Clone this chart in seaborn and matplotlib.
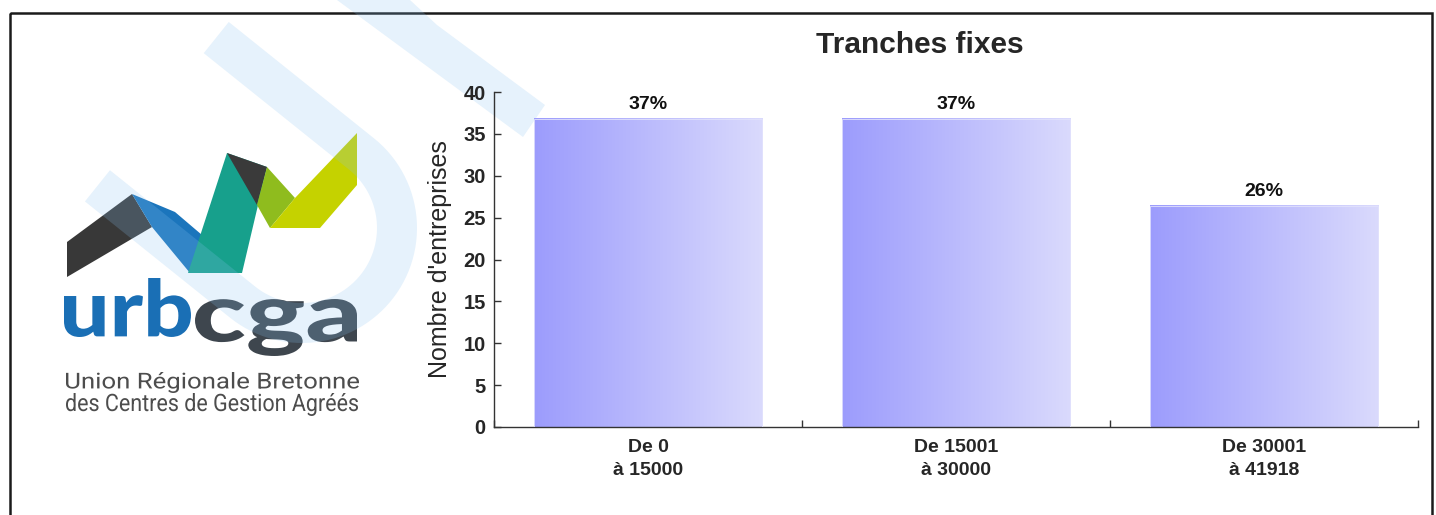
import numpy as np
import pandas as pd
import matplotlib
matplotlib.use("Agg")
import matplotlib.pyplot as plt
import matplotlib.transforms as mtransforms
import seaborn as sns
from matplotlib.colors import LinearSegmentedColormap
from matplotlib.font_manager import FontProperties
from matplotlib.patches import PathPatch, Polygon, Rectangle
from matplotlib.textpath import TextPath

# --- data ---------------------------------------------------------------
tranches = ["De 0\nà 15000", "De 15001\nà 30000", "De 30001\nà 41918"]
part_entreprises = [36.8, 36.8, 26.4]
y_ticks = [0, 5, 10, 15, 20, 25, 30, 35, 40]
titre = "Tranches fixes"
label_y = "Nombre d'entreprises"

BAR_LEFT = "#9c9cfd"
BAR_RIGHT = "#dadafc"
WATERMARK = (137 / 255, 194 / 255, 241 / 255)

sns.set_style("ticks")
plt.rcParams["font.family"] = ["Liberation Sans", "DejaVu Sans"]

W, H = 1436, 515
fig = plt.figure(figsize=(W / 100, H / 100), dpi=100)

# background layer in pixel coordinates (logo, watermark, frame)
bg = fig.add_axes([0, 0, 1, 1], zorder=0)
bg.set_xlim(0, W)
bg.set_ylim(H, 0)
bg.axis("off")

bg.add_patch(Rectangle((10, 13), 1422, 540, fill=False, ec="#1a1a1a", lw=1.8))


def boxed_text(s, x0, x1, top, bottom, prop, color):
    # stretch the glyph outlines so they fill the given pixel box
    path = TextPath((0, 0), s, size=1, prop=prop)
    bb = path.get_extents()
    sx = (x1 - x0) / bb.width
    sy = (bottom - top) / bb.height
    tr = (mtransforms.Affine2D().translate(-bb.x0, -bb.y0)
          .scale(sx, -sy).translate(x0, bottom))
    bg.add_patch(PathPatch(tr.transform_path(path), fc=color, ec="none",
                           zorder=3))


# logo ribbon
logo_shapes = [
    ([(67, 242), (132, 194), (152, 227), (67, 277)], "#383838"),
    ([(132, 194), (175, 212), (202, 235), (190, 273), (152, 227)], "#1b75bc"),
    ([(227, 153), (267, 167), (242, 273), (188, 273)], "#17a08c"),
    ([(227, 153), (267, 167), (257, 205)], "#3a3a3a"),
    ([(267, 167), (295, 198), (270, 228), (257, 205)], "#8fbc1e"),
    ([(295, 198), (357, 133), (357, 185), (320, 228), (270, 228)], "#c5d200"),
]
for pts, col in logo_shapes:
    bg.add_patch(Polygon(pts, closed=True, fc=col, ec="none", zorder=2))

logo_font = FontProperties(family="Lato", weight="black")
boxed_text("urb", 64, 191, 278, 337, logo_font, "#1a6fb5")
boxed_text("cga", 195, 357, 299, 356, logo_font, "#3e464e")

sub_font = FontProperties(family="Roboto")
boxed_text("Union Régionale Bretonne", 66, 359, 372, 393, sub_font, "#4d4d4d")
boxed_text("des Centres de Gestion Agréés", 66, 358, 393, 416, sub_font, "#4d4d4d")

# faint watermark on top of the logo
theta = np.arctan2(0.625, 0.78)
d = np.array([np.cos(theta), np.sin(theta)])
C = np.array([302.0, 228.0])
r_out, r_in, arm = 115, 75, 186
ang = np.linspace(theta - np.pi / 2, theta + np.pi / 2, 60)
outer = C + r_out * np.c_[np.cos(ang), np.sin(ang)]
inner = (C + r_in * np.c_[np.cos(ang), np.sin(ang)])[::-1]
u_shape = np.vstack([outer[0] - arm * d, outer, outer[-1] - arm * d,
                     inner[0] - arm * d, inner, inner[-1] - arm * d])
bg.add_patch(Polygon(u_shape, closed=True, fc=WATERMARK, alpha=0.21,
                     ec="none", zorder=4))
bg.add_patch(Polygon([(337, 0), (410, 0), (437, 25), (545, 105), (523, 137)],
                     closed=True, fc=WATERMARK, alpha=0.21, ec="none", zorder=4))

# --- bar chart ----------------------------------------------------------
ax = fig.add_axes([494 / W, 1 - 427 / H, 924 / W, 335 / H], zorder=2)
ax.set_facecolor("none")

df = pd.DataFrame({"tranche": tranches, "part": part_entreprises})
sns.barplot(data=df, x="tranche", y="part", width=0.743, color=BAR_LEFT,
            ax=ax, zorder=2)

cmap = LinearSegmentedColormap.from_list("barfill", [BAR_LEFT, BAR_RIGHT])
grad = np.linspace(0, 1, 256).reshape(1, -1)
for p in ax.patches:
    x0, w, h = p.get_x(), p.get_width(), p.get_height()
    ax.imshow(grad, cmap=cmap, aspect="auto", extent=(x0, x0 + w, 0, h),
              zorder=2)
    p.set_facecolor("none")
    p.set_edgecolor("#e2e2fd")
    p.set_linewidth(0.6)
    p.set_zorder(3)

ax.bar_label(ax.containers[0],
             labels=[f"{v:.0f}%" for v in part_entreprises],
             padding=4, fontsize=14, fontweight="bold", color="#111111")

n = len(tranches)
ax.set_xlim(-0.5, n - 0.5)
ax.set_ylim(0, 40)
ax.set_yticks(y_ticks)
ax.set_xticks(np.arange(n + 1) - 0.5)
ax.set_xticklabels([])
ax.set_xticks(np.arange(n), minor=True)
ax.set_xticklabels(tranches, minor=True, fontsize=14, fontweight="bold",
                   linespacing=1.45)
ax.tick_params(axis="x", which="major", direction="in", length=5, width=1,
               color="#333333")
ax.tick_params(axis="x", which="minor", length=0, pad=9)
ax.tick_params(axis="y", direction="in", length=5, width=1, pad=6,
               color="#333333", labelsize=14.5)
for lbl in ax.get_yticklabels():
    lbl.set_fontweight("bold")

ax.set_xlabel("")
ax.set_ylabel(label_y, fontsize=18)
ax.yaxis.set_label_coords(-0.0455, 0.5)
ax.set_title(titre, x=(920 - 494) / 924, y=(427 - 53) / 335, pad=0,
             fontsize=21.5, fontweight="bold")

sns.despine(ax=ax)
for side in ("left", "bottom"):
    ax.spines[side].set_color("#333333")
    ax.spines[side].set_linewidth(1)

fig.savefig("out.png", dpi=100)
